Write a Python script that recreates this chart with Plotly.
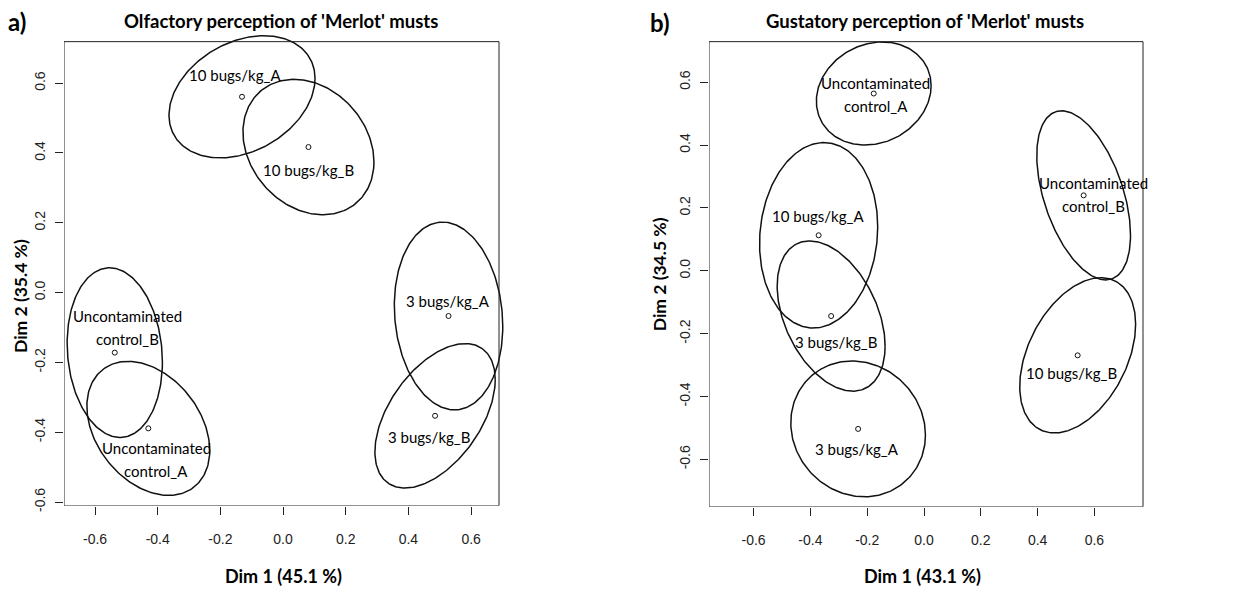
import numpy as np
import plotly.graph_objects as go

# ---------------- data ----------------
# Panel a) Olfactory perception
labels_a = ["10 bugs/kg_A", "10 bugs/kg_B", "Uncontaminated\ncontrol_B",
            "Uncontaminated\ncontrol_A", "3 bugs/kg_A", "3 bugs/kg_B"]
dim1_a = [-0.131, 0.081, -0.537, -0.430, 0.528, 0.485]
dim2_a = [0.561, 0.417, -0.172, -0.389, -0.067, -0.353]
# confidence ellipses: half-extent along Dim1, half-extent along Dim2, correlation
ell_hx_a = [0.233, 0.209, 0.152, 0.196, 0.173, 0.192]
ell_hy_a = [0.175, 0.194, 0.243, 0.192, 0.269, 0.207]
ell_rho_a = [0.30, -0.22, -0.11, -0.33, -0.11, 0.50]

# Panel b) Gustatory perception
labels_b = ["Uncontaminated\ncontrol_A", "Uncontaminated\ncontrol_B", "10 bugs/kg_A",
            "3 bugs/kg_B", "3 bugs/kg_A", "10 bugs/kg_B"]
dim1_b = [-0.177, 0.562, -0.371, -0.327, -0.232, 0.541]
dim2_b = [0.564, 0.240, 0.113, -0.144, -0.503, -0.269]
ell_hx_b = [0.202, 0.165, 0.208, 0.190, 0.237, 0.204]
ell_hy_b = [0.164, 0.269, 0.295, 0.239, 0.216, 0.247]
ell_rho_b = [0.15, -0.47, 0.09, -0.40, -0.09, 0.40]

tick_vals = [-0.6, -0.4, -0.2, 0.0, 0.2, 0.4, 0.6]
tick_text = ["-0.6", "-0.4", "-0.2", "0.0", "0.2", "0.4", "0.6"]

titles = ["Olfactory perception of 'Merlot' musts", "Gustatory perception of 'Merlot' musts"]
panel_tags = ["a)", "b)"]
x_titles = ["Dim 1 (45.1 %)", "Dim 1 (43.1 %)"]
y_titles = ["Dim 2 (35.4 %)", "Dim 2 (34.5 %)"]

# ---------------- styling / placement (pixels of the 1254x594 page) ----------------
PAGE_W, PAGE_H = 1254, 594
OFF = 8  # default page body margin of the browser
W, H = PAGE_W - OFF, PAGE_H - OFF


def px_x(p):
    return (p - OFF) / W


def px_y(p):
    return 1 - (p - OFF) / H


# label offsets (dx right, dy down) in px relative to the point
lab_off_a = [(-7, -22), (0, 23), (13, -25), (8, 31), (-1, -15), (-6, 21)]
lab_off_b = [(2, 1), (10, -1), (-1, -19), (5, 26), (-1, 20), (-6, 18)]

LABEL_FONT = dict(family="Lato, 'Open Sans', sans-serif", size=15, color="#000")
TICK_FONT = dict(family="'Liberation Sans', Arial, sans-serif", size=14, color="#222")
BOLD_FONT = "Lato, 'Open Sans', sans-serif"

fig = go.Figure()


def ellipse(cx, cy, hx, hy, rho, n=240):
    t = np.linspace(0, 2 * np.pi, n)
    x = cx + hx * np.cos(t)
    y = cy + hy * (rho * np.cos(t) + np.sqrt(1 - rho ** 2) * np.sin(t))
    return x, y


panels = [
    dict(d1=dim1_a, d2=dim2_a, hx=ell_hx_a, hy=ell_hy_a, rho=ell_rho_a, labels=labels_a,
         off=lab_off_a, xa="x", ya="y"),
    dict(d1=dim1_b, d2=dim2_b, hx=ell_hx_b, hy=ell_hy_b, rho=ell_rho_b, labels=labels_b,
         off=lab_off_b, xa="x2", ya="y2"),
]

annotations = []
for p in panels:
    for i in range(len(p["d1"])):
        ex, ey = ellipse(p["d1"][i], p["d2"][i], p["hx"][i], p["hy"][i], p["rho"][i])
        fig.add_trace(go.Scatter(x=ex, y=ey, mode="lines", xaxis=p["xa"], yaxis=p["ya"],
                                 line=dict(color="#111", width=1.5), hoverinfo="skip",
                                 showlegend=False))
    fig.add_trace(go.Scatter(x=p["d1"], y=p["d2"], mode="markers", xaxis=p["xa"], yaxis=p["ya"],
                             marker=dict(symbol="circle-open", size=5, color="#111",
                                         line=dict(width=1)),
                             showlegend=False, cliponaxis=False))
    for i, lab in enumerate(p["labels"]):
        lines = lab.split("\n")
        dx, dy = p["off"][i]
        n = len(lines)
        for k, ln in enumerate(lines):
            shift = (k - (n - 1) / 2) * 23
            annotations.append(dict(x=p["d1"][i], y=p["d2"][i], xref=p["xa"], yref=p["ya"],
                                    text=ln, showarrow=False, xanchor="center", yanchor="middle",
                                    xshift=dx, yshift=-(dy + shift), font=LABEL_FONT))

# plot boxes in page pixels: (left, right, top, bottom) and the data range of the box
box_px = [(64, 499, 42, 511), (709, 1143, 42, 512)]
box_rng = [((-0.699, 0.689), (-0.611, 0.719)), ((-0.757, 0.771), (-0.751, 0.729))]
extra = [(10, 10), (4, 6)]  # extra room to the right / top (px) for overflowing ellipses

axis_common = dict(showgrid=False, zeroline=False, showline=False, ticks="outside",
                   ticklen=8, tickwidth=1, tickcolor="#222", tickvals=tick_vals,
                   ticktext=tick_text, tickfont=TICK_FONT)

layout_axes = {}
shapes = []
for j, ((l, r, t, b), ((x0, x1), (y0, y1)), (er, et)) in enumerate(zip(box_px, box_rng, extra)):
    sx = (x1 - x0) / (r - l)
    sy = (y1 - y0) / (b - t)
    xr = [x0, x1 + er * sx]
    yr = [y0, y1 + et * sy]
    xd = [px_x(l), px_x(r + er)]
    yd = [px_y(b), px_y(t - et)]
    suffix = "" if j == 0 else "2"
    layout_axes["xaxis" + suffix] = dict(axis_common, domain=xd, range=xr, anchor="y" + suffix,
                                         ticklabelstandoff=12)
    layout_axes["yaxis" + suffix] = dict(axis_common, domain=yd, range=yr, anchor="x" + suffix,
                                         tickangle=-90, ticklabelstandoff=4)
    shapes.append(dict(type="rect", xref="x" + suffix, yref="y" + suffix, x0=x0, x1=x1, y0=y0,
                       y1=y1, line=dict(color="#222", width=1), layer="above"))

# titles and axis titles (page positions in px)
title_pos = [(280.5, 21), (925, 21)]
tag_pos = [(16.5, 22), (660, 23)]
xt_pos = [(283.7, 582), (922.7, 582)]
yt_pos = [(20, 299), (659, 277)]
for j in range(2):
    annotations.append(dict(x=px_x(title_pos[j][0]), y=px_y(title_pos[j][1]), xref="paper",
                            yref="paper", text="<b>%s</b>" % titles[j], showarrow=False,
                            xanchor="center", yanchor="middle",
                            font=dict(family=BOLD_FONT, size=18.5, color="#000")))
    annotations.append(dict(x=px_x(tag_pos[j][0]), y=px_y(tag_pos[j][1]), xref="paper",
                            yref="paper", text="<b>%s</b>" % panel_tags[j], showarrow=False,
                            xanchor="center", yanchor="middle",
                            font=dict(family=BOLD_FONT, size=24, color="#000")))
    annotations.append(dict(x=px_x(xt_pos[j][0]), y=px_y(xt_pos[j][1]), xref="paper",
                            yref="paper", text="<b>%s</b>" % x_titles[j], showarrow=False,
                            xanchor="center", yanchor="middle",
                            font=dict(family=BOLD_FONT, size=18, color="#000")))
    annotations.append(dict(x=px_x(yt_pos[j][0]), y=px_y(yt_pos[j][1]), xref="paper",
                            yref="paper", text="<b>%s</b>" % y_titles[j], showarrow=False,
                            xanchor="center", yanchor="middle", textangle=-90,
                            font=dict(family=BOLD_FONT, size=17.5, color="#000")))

fig.update_layout(width=W, height=H, autosize=False, margin=dict(l=0, r=0, t=0, b=0),
                  paper_bgcolor="white", plot_bgcolor="rgba(0,0,0,0)",
                  annotations=annotations, shapes=shapes, showlegend=False, **layout_axes)

fig.write_html("out.html")
